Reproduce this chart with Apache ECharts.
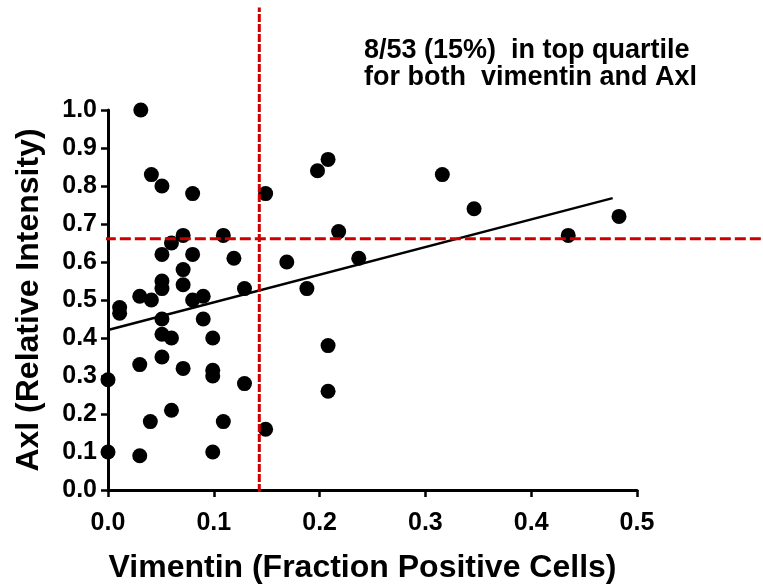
<!DOCTYPE html>
<html>
<head>
<meta charset="utf-8">
<script src="https://cdn.jsdelivr.net/npm/echarts@6/dist/echarts.min.js"></script>
<style>html,body{margin:0;padding:0;background:#fff}#c{width:763px;height:587px}</style>
</head>
<body>
<div id="c"></div>
<script>
var vimentin = [0.031,0.041,0.051,0.080,0.071,0.060,0.051,0.080,0.109,0.119,0.071,0.071,0.051,0.051,0.030,0.041,0.080,0.090,0.129,0.011,0.011,0.051,0.051,0.060,0.090,0.099,0.030,0.051,0.071,0.099,0.099,0.000,0.129,0.040,0.060,0.109,0.000,0.030,0.099,0.149,0.149,0.198,0.208,0.316,0.346,0.483,0.435,0.218,0.169,0.237,0.188,0.208,0.208];
var axl = [1.00,0.83,0.80,0.78,0.67,0.65,0.62,0.62,0.67,0.61,0.58,0.54,0.55,0.53,0.51,0.50,0.50,0.51,0.53,0.48,0.465,0.45,0.41,0.40,0.45,0.40,0.33,0.35,0.32,0.315,0.30,0.29,0.28,0.18,0.21,0.18,0.10,0.09,0.10,0.16,0.78,0.84,0.87,0.83,0.74,0.72,0.67,0.68,0.60,0.61,0.53,0.38,0.26];
var xTicks = [0.0,0.1,0.2,0.3,0.4,0.5];
var yTicks = [0.0,0.1,0.2,0.3,0.4,0.5,0.6,0.7,0.8,0.9,1.0];
var fitX = [0.0, 0.477];
var fitY = [0.421, 0.768];
var vimThreshold = 0.143;
var axlThreshold = 0.661;
var vLineY = [-0.005, 1.27];
var hLineX = [-0.003, 0.619];
var noteLines = ['8/53 (15%)  in top quartile', 'for both  vimentin and Axl'];

var points = vimentin.map(function(v,i){return [v, axl[i]];});
var font = "'Liberation Sans', Arial, sans-serif";
var chart = echarts.init(document.getElementById('c'));
chart.setOption({
  animation: false,
  backgroundColor: '#fff',
  grid: [
    {left: 108, top: 110, right: 126, bottom: 97, containLabel: false, outerBoundsMode: 'none'},
    {left: 108, top: 110, right: 0, bottom: 97, containLabel: false, outerBoundsMode: 'none'}
  ],
  xAxis: [{
    type: 'value', min: xTicks[0], max: xTicks[xTicks.length-1], interval: 0.1, gridIndex: 0,
    name: 'Vimentin (Fraction Positive Cells)', nameLocation: 'middle', nameGap: 62,
    nameTextStyle: {fontFamily: font, fontWeight: 'bold', fontSize: 32, color: '#000', padding: [0, 20, 0, 0]},
    axisLine: {lineStyle: {color: '#000', width: 3}},
    axisTick: {length: 7, lineStyle: {color: '#000', width: 2.5}},
    axisLabel: {margin: 21, fontFamily: font, fontWeight: 'bold', fontSize: 25, color: '#000',
      formatter: function(v){return v.toFixed(1);}},
    splitLine: {show: false}
  }, {
    type: 'value', min: 0, max: hLineX[1], gridIndex: 1, show: false
  }],
  yAxis: [{
    type: 'value', min: yTicks[0], max: yTicks[yTicks.length-1], interval: 0.1, gridIndex: 0,
    name: 'Axl (Relative Intensity)', nameLocation: 'middle', nameGap: 63,
    nameTextStyle: {fontFamily: font, fontWeight: 'bold', fontSize: 32, color: '#000'},
    axisLine: {lineStyle: {color: '#000', width: 3}},
    axisTick: {length: 7, lineStyle: {color: '#000', width: 2.5}},
    axisLabel: {margin: 11, fontFamily: font, fontWeight: 'bold', fontSize: 25, color: '#000',
      formatter: function(v){return v.toFixed(1);}},
    splitLine: {show: false}
  }, {
    type: 'value', min: yTicks[0], max: yTicks[yTicks.length-1], gridIndex: 1, show: false
  }],
  series: [
    {type: 'scatter', data: points, symbolSize: 15, itemStyle: {color: '#000', opacity: 1}, z: 2},
    {type: 'line', data: [[fitX[0], fitY[0]],[fitX[1], fitY[1]]], symbol: 'none', z: 3,
      lineStyle: {color: '#000', width: 2.5}},
    {type: 'line', data: [[vimThreshold, vLineY[0]],[vimThreshold, vLineY[1]]], symbol: 'none', clip: false, z: 4,
      lineStyle: {color: '#cc0000', width: 3, type: [8,2]}},
    {type: 'line', xAxisIndex: 1, yAxisIndex: 1, data: [[hLineX[0], axlThreshold],[hLineX[1], axlThreshold]], symbol: 'none', clip: false, z: 4,
      lineStyle: {color: '#cc0000', width: 3, type: [11,4]}}
  ],
  graphic: [
    {type: 'text', left: 364, top: 37, style: {text: noteLines[0], fontFamily: font, fontWeight: 'bold', fontSize: 27, fill: '#000'}},
    {type: 'text', left: 364, top: 64, style: {text: noteLines[1], fontFamily: font, fontWeight: 'bold', fontSize: 27, fill: '#000'}}
  ]
});
</script>
</body>
</html>
